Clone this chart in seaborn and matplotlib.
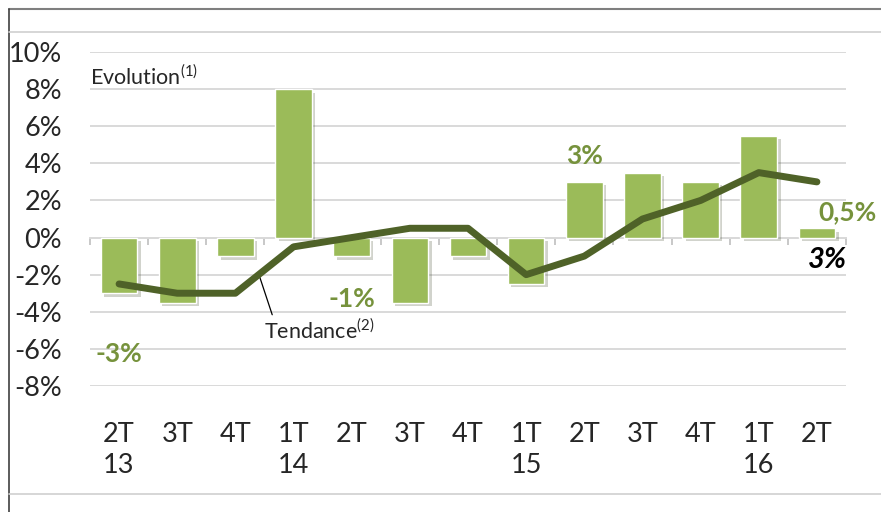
"""Evolution trimestrielle et tendance (barres + courbe)"""
import matplotlib
matplotlib.use("Agg")
import matplotlib.pyplot as plt
import matplotlib.patheffects as pe
from matplotlib.lines import Line2D
import numpy as np
import pandas as pd
import seaborn as sns

# données
periodes = ["2T13", "3T13", "4T13", "1T14", "2T14", "3T14", "4T14",
            "1T15", "2T15", "3T15", "4T15", "1T16", "2T16"]
etiquettes = ["2T\n13", "3T", "4T", "1T\n14", "2T", "3T", "4T",
              "1T\n15", "2T", "3T", "4T", "1T\n16", "2T"]
evolution = [-3, -3.5, -1, 8, -1, -3.5, -1, -2.5, 3, 3.5, 3, 5.5, 0.5]
tendance = [-2.5, -3, -3, -0.5, 0, 0.5, 0.5, -2, -1, 1, 2, 3.5, 3]
yticks = [-8, -6, -4, -2, 0, 2, 4, 6, 8, 10]

VERT = "#9BBB59"
VERT_FONCE = "#4F6228"
VERT_TEXTE = "#76923C"

sns.set_style("white")
plt.rcParams["font.family"] = ["Lato", "DejaVu Sans"]
plt.rcParams["mathtext.fontset"] = "custom"
plt.rcParams["mathtext.rm"] = "Lato"

W, H = 881, 512
fig = plt.figure(figsize=(W / 100, H / 100), dpi=100)
ax = fig.add_axes([90 / W, 1 - 386 / H, 756 / W, 334 / H])

df = pd.DataFrame({"periode": periodes, "evolution": evolution, "tendance": tendance})
df["x"] = np.arange(len(df))

sns.barplot(data=df, x="periode", y="evolution", color=VERT, width=0.63,
            saturation=1, ax=ax, zorder=3)
for p in ax.patches:
    p.set_path_effects([pe.SimplePatchShadow(offset=(2.5, -2.5), alpha=0.22), pe.Normal()])

sns.lineplot(data=df, x="x", y="tendance", color=VERT_FONCE, linewidth=5,
             ax=ax, zorder=4, solid_capstyle="round", solid_joinstyle="round")

ax.set_xlim(-0.5, len(df) - 0.5)
ax.set_ylim(-8, 10)
ax.set_yticks(yticks)
ax.set_yticklabels([f"{v}%" for v in yticks], fontsize=19.5)
ax.yaxis.grid(True, color="#d9d9d9", linewidth=1.4, zorder=0)
ax.set_axisbelow(True)
for s in ax.spines.values():
    s.set_visible(False)
ax.tick_params(axis="y", length=0, pad=20)

ax.set_xticks(df["x"])
ax.set_xticklabels(etiquettes, fontsize=19.5, multialignment="left", linespacing=1.3)
ax.tick_params(axis="x", length=0, pad=26)
ax.set_xlabel("")
ax.set_ylabel("")

# axe du zéro avec petits repères entre catégories
zero = ax.secondary_xaxis(8 / 18)
zero.set_xticks(np.arange(-0.5, len(df), 1))
zero.set_xticklabels([])
zero.tick_params(length=5, width=1.2, color="#bfbfbf")
zero.spines["bottom"].set_color("#d9d9d9")
zero.spines["bottom"].set_linewidth(1.4)

# annotations
ax.text(-0.5, 8.7, r"Evolution$^{\mathregular{(1)}}$", fontsize=15.5, va="center", ha="left")
ax.annotate(r"Tendance$^{\mathregular{(2)}}$", xy=(2.42, -2.14), xytext=(2.5, -5.0),
            fontsize=15.5, va="center", ha="left",
            arrowprops=dict(arrowstyle="-", lw=0.9, color="black",
                            shrinkA=0, shrinkB=0, relpos=(0.08, 1)))
for xi, yi, txt in [(0, -6.3, "-3%"), (4, -3.3, "-1%"), (8, 4.4, "3%"), (12.53, 1.35, "0,5%")]:
    ax.text(xi, yi, txt, color=VERT_TEXTE, fontsize=19, fontweight="bold",
            ha="center", va="center")
ax.text(12.18, -1.2, "3%", color="black", fontsize=21, fontweight="bold",
        fontstyle="italic", ha="center", va="center")

# cadre
def ligne(x0, y0, x1, y1, color, lw):
    fig.add_artist(Line2D([x0 / W, x1 / W], [1 - y0 / H, 1 - y1 / H],
                          color=color, linewidth=lw))

ligne(9, 9, W, 9, "#7f7f7f", 1.5)
ligne(9, 9, 9, H, "#404040", 1.2)
ligne(9, 32, W, 32, "#d0d0d0", 1.2)
ligne(9, 494, W, 494, "#d0d0d0", 1.2)

fig.savefig("out.png", dpi=100)
